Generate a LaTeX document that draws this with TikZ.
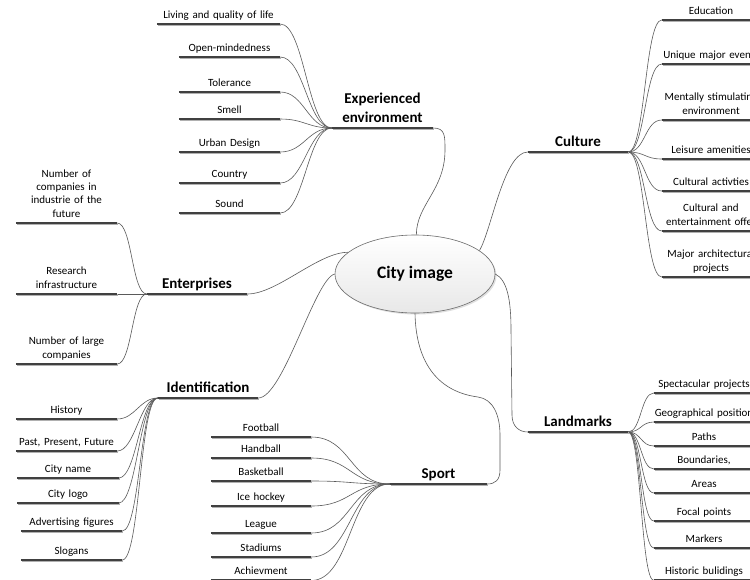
\documentclass[tikz,border=0pt]{standalone}
\usepackage{fontspec}
\setmainfont{Carlito}
\usetikzlibrary{shapes.geometric,shadows}
\definecolor{ulc}{HTML}{404040}
\definecolor{shc}{HTML}{B0B0B0}
\definecolor{cnc}{HTML}{5A5A5A}
\tikzset{
  leaf/.style={anchor=south, inner xsep=0pt, inner ysep=1.5pt, align=center,
    execute at end node={\strut}, font=\fontsize{11}{13.4}\selectfont},
  hubnode/.style={anchor=south, inner xsep=0pt, inner ysep=0pt, align=center,
    execute at end node={\strut}, font=\fontsize{15}{18.5}\selectfont\bfseries},
  uline/.style={draw=ulc, line width=2.6pt},
  ushadow/.style={draw=shc, line width=2.6pt},
  conn/.style={draw=cnc, line width=0.6pt},
}
\begin{document}
\begin{tikzpicture}[x=1pt,y=-1pt]
\useasboundingbox (0,0) rectangle (750,579);
\clip (0,0) rectangle (750,579);
\fill[white] (0,0) rectangle (750,579);

% central ellipse
\node[ellipse, minimum width=160pt, minimum height=78pt, inner sep=0pt,
  draw=gray!85!black, line width=0.6pt, top color=white, bottom color=gray!18,
  drop shadow={shadow xshift=1.5pt, shadow yshift=-1.5pt, opacity=0.25},
  font=\fontsize{17.5}{20}\selectfont\bfseries] (ci) at (415,274) {City image};

% hubs
\node[hubnode, text width=101pt] (ee) at (382.5,128) {Experienced\\environment};
\node[hubnode, text width=100pt] (cu) at (578,152) {Culture};
\node[hubnode, text width=100pt] (en) at (197,294) {Enterprises};
\node[hubnode, text width=100pt] (id) at (208,398) {Identification};
\node[hubnode, text width=97pt] (sp) at (438.5,484) {Sport};
\node[hubnode, text width=100pt] (la) at (578,432) {Landmarks};

% Experienced environment leaves
\node[leaf, text width=123pt] (e1) at (218.5,24) {Living and quality of life};
\node[leaf, text width=101pt] (e2) at (229.5,57) {Open-mindedness};
\node[leaf, text width=101pt] (e3) at (229.5,92) {Tolerance};
\node[leaf, text width=101pt] (e4) at (229.5,119) {Smell};
\node[leaf, text width=101pt] (e5) at (229.5,152) {Urban Design};
\node[leaf, text width=101pt] (e6) at (229.5,183) {Country};
\node[leaf, text width=101pt] (e7) at (229.5,213) {Sound};

% Culture leaves
\node[leaf, text width=98pt] (c1) at (711,20) {Education};
\node[leaf, text width=98pt] (c2) at (711,64) {Unique major events};
\node[leaf, text width=98pt] (c3) at (711,120) {Mentally stimulating\\environment};
\node[leaf, text width=98pt] (c4) at (711,159) {Leisure amenities};
\node[leaf, text width=98pt] (c5) at (711,191) {Cultural activties};
\node[leaf, text width=98pt] (c6) at (711,231) {Cultural and\\entertainment offer};
\node[leaf, text width=98pt] (c7) at (711,277) {Major architectural\\projects};

% Enterprises leaves
\node[leaf, text width=101pt] (n1) at (66.5,223) {Number of\\companies in\\industrie of the\\future};
\node[leaf, text width=101pt] (n2) at (66.5,294) {Research\\infrastructure};
\node[leaf, text width=101pt] (n3) at (66.5,364) {Number of large\\companies};

% Identification leaves
\node[leaf, text width=101pt] (i1) at (66.5,419) {History};
\node[leaf, text width=101pt] (i2) at (66.5,451) {Past, Present, Future};
\node[leaf, text width=101pt] (i3) at (68,478) {City name};
\node[leaf, text width=101pt] (i4) at (68,503) {City logo};
\node[leaf, text width=101pt] (i5) at (71.5,531) {Advertising figures};
\node[leaf, text width=101pt] (i6) at (71.5,560) {Slogans};

% Sport leaves
\node[leaf, text width=100pt] (s1) at (261,437) {Football};
\node[leaf, text width=100pt] (s2) at (261,458) {Handball};
\node[leaf, text width=100pt] (s3) at (261,481) {Basketball};
\node[leaf, text width=100pt] (s4) at (261,506) {Ice hockey};
\node[leaf, text width=100pt] (s5) at (261,533) {League};
\node[leaf, text width=100pt] (s6) at (261,557) {Stadiums};
\node[leaf, text width=100pt] (s7) at (261,580.5) {Achievment};

% Landmarks leaves
\node[leaf, text width=100pt] (l1) at (704,393) {Spectacular projects};
\node[leaf, text width=100pt] (l2) at (704,422) {Geographical position};
\node[leaf, text width=100pt] (l3) at (704,446) {Paths};
\node[leaf, text width=100pt] (l4) at (704,469) {Boundaries,};
\node[leaf, text width=100pt] (l5) at (704,493) {Areas};
\node[leaf, text width=100pt] (l6) at (704,521) {Focal points};
\node[leaf, text width=100pt] (l7) at (704,548) {Markers};
\node[leaf, text width=100pt] (l8) at (704,580.5) {Historic bulidings};

% leaf connectors
\foreach \l in {e1,e2,e3,e4,e5,e6,e7}
  \draw[conn] (\l.south east) .. controls +(24,0) and +(-24,0) .. (ee.south west);
\foreach \l in {c1,c2,c3,c4,c5,c6,c7}
  \draw[conn] (cu.south east) .. controls +(17,0) and +(-17,0) .. (\l.south west);
\foreach \l in {n1,n2,n3}
  \draw[conn] (\l.south east) .. controls +(15,0) and +(-15,0) .. (en.south west);
\foreach \l in {i1,i2,i3,i4,i5,i6}
  \draw[conn] (\l.south east) .. controls +(18,0) and +(-18,0) .. (id.south west);
\foreach \l in {s1,s2,s3,s4,s5,s6,s7}
  \draw[conn] (\l.south east) .. controls +(40,0) and +(-40,0) .. (sp.south west);
\foreach \l in {l1,l2,l3,l4,l5,l6,l7,l8}
  \draw[conn] (la.south east) .. controls +(13,0) and +(-13,0) .. (\l.south west);

% main connectors
\draw[conn] (ee.south east) .. controls +(12,0) and +(0,-14) .. (445,150)
  .. controls +(0,40) and +(0,-30) .. (ci.88);
\draw[conn] (ci.20) .. controls +(12,-20) and +(-24,0) .. (cu.south west);
\draw[conn] (en.south east) .. controls +(30,0) and +(-30,0) .. (ci.162);
\draw[conn] (id.south east) .. controls +(25,0) and +(-20,5) .. (ci.west);
\draw[conn] (ci.south) .. controls +(1,52) and +(-38,-5) .. (478,397)
  .. controls +(15,2) and +(0,-20) .. (500,435) -- (500,470)
  .. controls +(0,10) and +(8,0) .. (sp.south east);
\draw[conn] (ci.east) .. controls +(12,6) and +(0,-30) .. (511,330) -- (512,415)
  .. controls +(0,12) and +(-8,0) .. (la.south west);

% underlines (shadow then line)
\foreach \n in {ee,cu,en,id,sp,la,e1,e2,e3,e4,e5,e6,e7,c1,c2,c3,c4,c5,c6,c7,n1,n2,n3,i1,i2,i3,i4,i5,i6,s1,s2,s3,s4,s5,s6,s7,l1,l2,l3,l4,l5,l6,l7,l8}{
  \draw[ushadow] ([xshift=0.8pt,yshift=-1pt]\n.south west) -- ([xshift=0.8pt,yshift=-1pt]\n.south east);
  \draw[uline] (\n.south west) -- (\n.south east);
}
\end{tikzpicture}
\end{document}
